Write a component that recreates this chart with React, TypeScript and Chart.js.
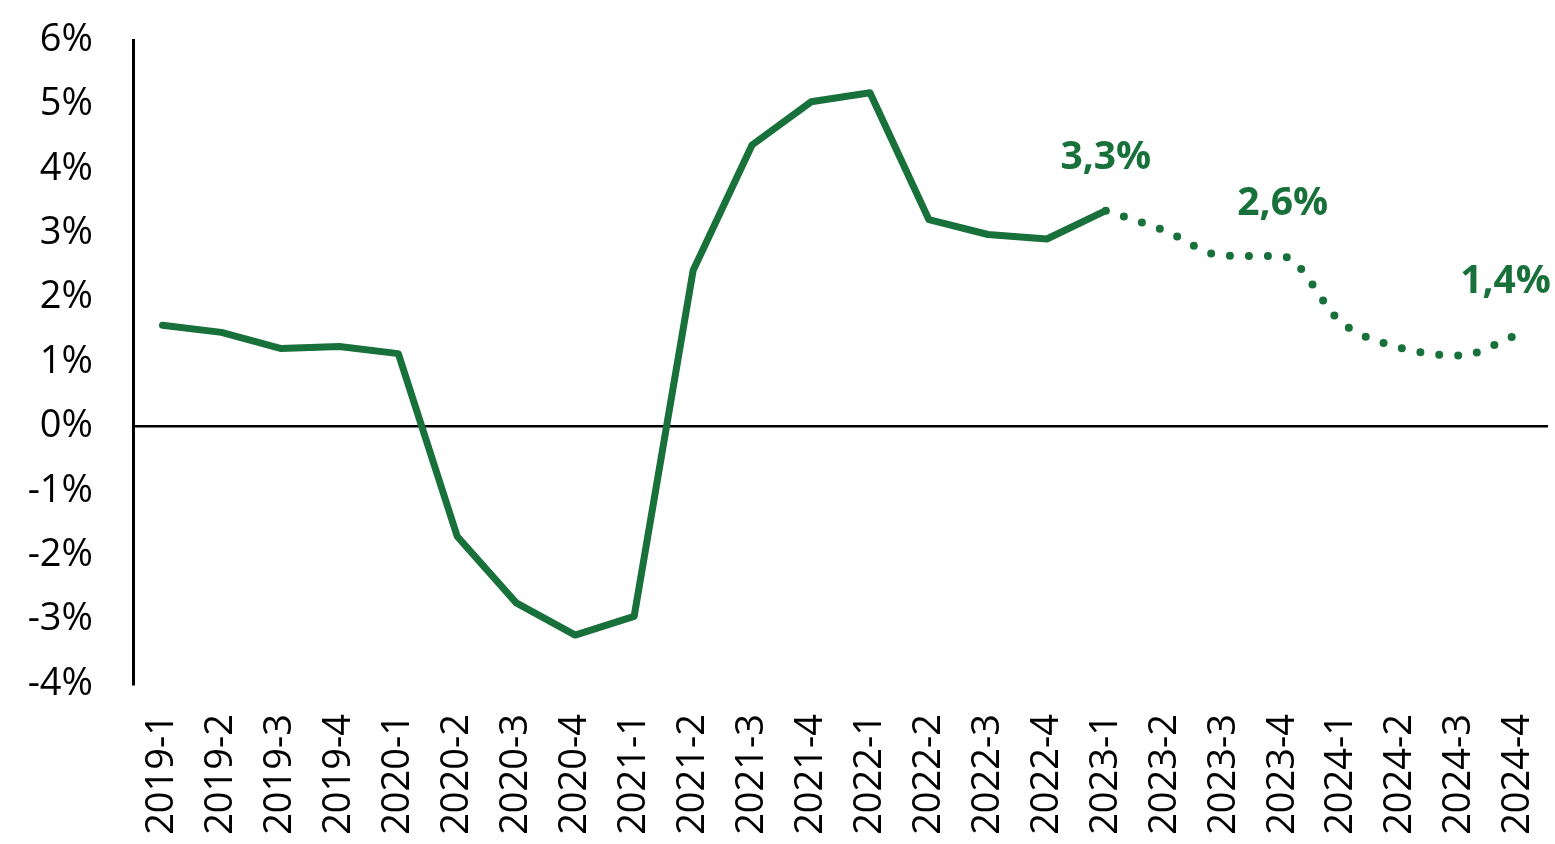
import React, { useEffect, useRef } from "react";
import { Chart, registerables } from "chart.js";

Chart.register(...registerables);

const categories = [
  "2019-1", "2019-2", "2019-3", "2019-4",
  "2020-1", "2020-2", "2020-3", "2020-4",
  "2021-1", "2021-2", "2021-3", "2021-4",
  "2022-1", "2022-2", "2022-3", "2022-4",
  "2023-1", "2023-2", "2023-3", "2023-4",
  "2024-1", "2024-2", "2024-3", "2024-4",
];

const actual: (number | null)[] = [
  1.57, 1.46, 1.21, 1.24,
  1.13, -1.71, -2.74, -3.24,
  -2.95, 2.42, 4.37, 5.04,
  5.18, 3.21, 2.98, 2.91,
  3.35, null, null, null,
  null, null, null, null,
];

const forecast: (number | null)[] = [
  null, null, null, null,
  null, null, null, null,
  null, null, null, null,
  null, null, null, null,
  3.35, 3.04, 2.65, 2.64,
  1.61, 1.22, 1.10, 1.43,
];

const pointLabels: (string | null)[] = [
  null, null, null, null,
  null, null, null, null,
  null, null, null, null,
  null, null, null, null,
  "3,3%", null, null, "2,6%",
  null, null, null, "1,4%",
];

const yMin = -4;
const yMax = 6;

const GREEN = "#18703A";
const FONT = "'Open Sans', 'Noto Sans', sans-serif";

const labelPlugin = {
  id: "pointLabels",
  afterDatasetsDraw(chart: any) {
    const ctx = chart.ctx;
    const xs = chart.scales.x;
    const ys = chart.scales.y;
    ctx.save();
    ctx.font = `bold 39px ${FONT}`;
    ctx.fillStyle = GREEN;
    ctx.textBaseline = "bottom";
    ctx.textAlign = "center";
    pointLabels.forEach((lbl, i) => {
      if (!lbl) return;
      const v = forecast[i] ?? actual[i];
      if (v == null) return;
      let x = xs.getPixelForValue(i);
      const y = ys.getPixelForValue(v) - 33;
      const w = ctx.measureText(lbl).width;
      const maxX = chart.width - 4 - w / 2;
      if (x > maxX) x = maxX;
      ctx.fillText(lbl, x, y);
    });
    ctx.restore();
  },
};

export default function App() {
  const ref = useRef<HTMLCanvasElement>(null);

  useEffect(() => {
    if (!ref.current) return;
    const chart = new Chart(ref.current, {
      type: "line",
      data: {
        labels: categories,
        datasets: [
          {
            data: actual,
            borderColor: GREEN,
            borderWidth: 7,
            pointRadius: 0,
            tension: 0,
            borderJoinStyle: "round",
            borderCapStyle: "round",
            spanGaps: false,
          },
          {
            data: forecast,
            borderColor: GREEN,
            borderWidth: 8,
            pointRadius: 0,
            cubicInterpolationMode: "monotone",
            borderDash: [0, 19],
            borderCapStyle: "round",
            spanGaps: false,
          },
        ],
      },
      options: {
        animation: false,
        responsive: false,
        maintainAspectRatio: false,
        layout: { padding: { top: 40, right: 7, left: 0, bottom: 0 } },
        plugins: {
          legend: { display: false },
          tooltip: { enabled: false },
        },
        scales: {
          x: {
            offset: true,
            grid: { display: false, drawTicks: false },
            border: { display: false },
            ticks: {
              autoSkip: false,
              minRotation: 90,
              maxRotation: 90,
              padding: 30,
              color: "#000",
              font: { family: FONT, size: 38 },
            },
            afterFit: (s: any) => {
              s.height = 160;
              s.paddingLeft = 0;
              s.paddingRight = 0;
            },
          },
          y: {
            min: yMin,
            max: yMax,
            grid: {
              drawTicks: false,
              lineWidth: 2.5,
              color: (c: any) => (c.tick && c.tick.value === 0 ? "#000" : "rgba(0,0,0,0)"),
            },
            border: { display: true, color: "#000", width: 3 },
            ticks: {
              stepSize: 1,
              padding: 40,
              color: "#000",
              font: { family: FONT, size: 38 },
              callback: (v: any) => `${v}%`,
            },
            afterFit: (s: any) => {
              s.width = 133;
              s.paddingTop = 0;
              s.paddingBottom = 0;
            },
          },
        },
      },
      plugins: [labelPlugin],
    });
    return () => chart.destroy();
  }, []);

  return (
    <div style={{ position: "fixed", left: 0, top: 0, width: 1555, height: 844, background: "#fff" }}>
      <canvas ref={ref} width={1555} height={844} style={{ width: 1555, height: 844 }} />
    </div>
  );
}
